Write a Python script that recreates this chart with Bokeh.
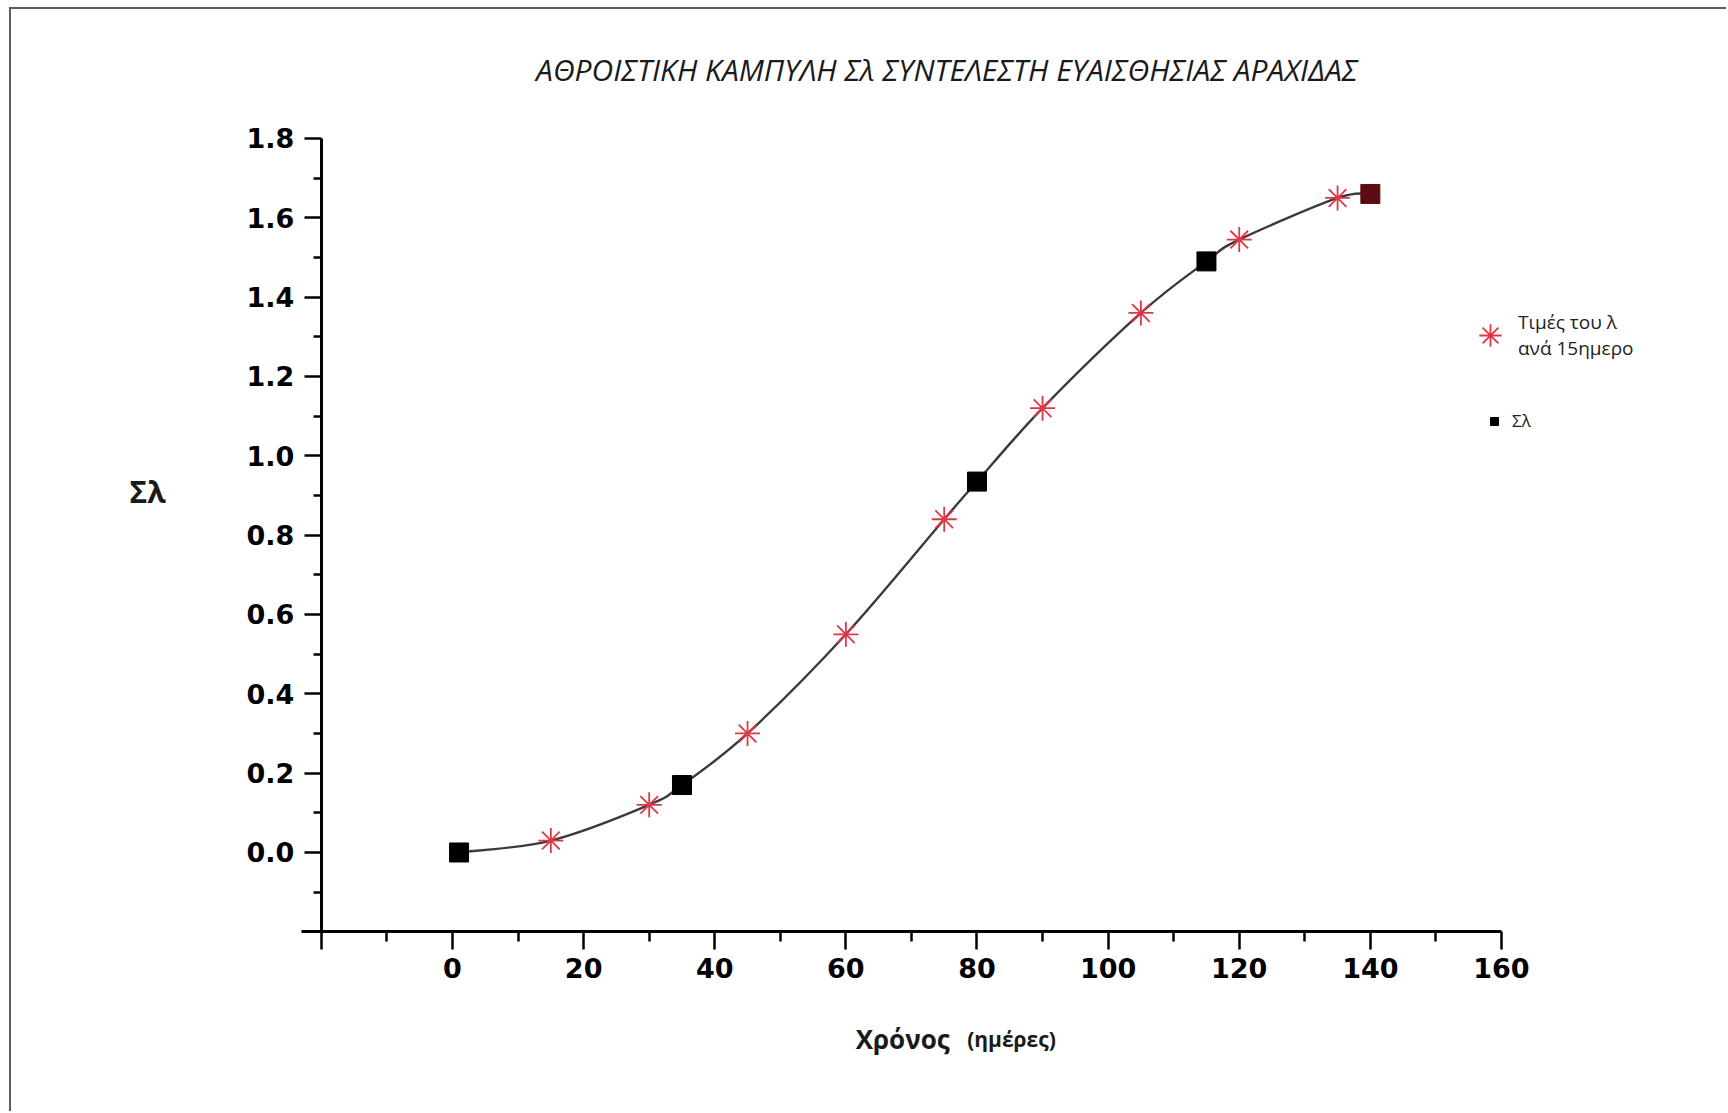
from bokeh.plotting import figure
from bokeh.models import (ColumnDataSource, FixedTicker, NumeralTickFormatter,
                          Label, Legend, LegendItem)
from bokeh.embed import file_html
from bokeh.resources import INLINE

# 15-day values of the sensitivity coefficient (λ) and cumulative Σλ points
star_days = [15, 30, 45, 60, 75, 90, 105, 120, 135]
star_vals = [0.03, 0.12, 0.30, 0.55, 0.84, 1.12, 1.36, 1.545, 1.65]

sum_days = [1, 35, 80, 115, 140]
sum_vals = [0.0, 0.17, 0.935, 1.49, 1.66]
sum_colors = ["black", "black", "black", "black", "#5a0c14"]

x_ticks = [-20, 0, 20, 40, 60, 80, 100, 120, 140, 160]
x_minor = [-10, 10, 30, 50, 70, 90, 110, 130, 150]
y_ticks = [0.0, 0.2, 0.4, 0.6, 0.8, 1.0, 1.2, 1.4, 1.6, 1.8]
y_minor = [-0.1, 0.1, 0.3, 0.5, 0.7, 0.9, 1.1, 1.3, 1.5, 1.7]

title_text = "ΑΘΡΟΙΣΤΙΚΗ ΚΑΜΠΥΛΗ Σλ ΣΥΝΤΕΛΕΣΤΗ ΕΥΑΙΣΘΗΣΙΑΣ ΑΡΑΧΙΔΑΣ"
x_title = "Χρόνος"
x_unit = "(ημέρες)"
y_title = "Σλ"
star_label = "Τιμές του λ\nανά 15ημερο"
sum_label = "Σλ"

# smooth curve through every point in time order (Catmull-Rom as cubic Béziers)
pts = sorted(zip(star_days + sum_days, star_vals + sum_vals))
seg = dict(x0=[], y0=[], x1=[], y1=[], cx0=[], cy0=[], cx1=[], cy1=[])
for i in range(len(pts) - 1):
    p_prev = pts[max(i - 1, 0)]
    p0, p1 = pts[i], pts[i + 1]
    p_next = pts[min(i + 2, len(pts) - 1)]
    seg["x0"].append(p0[0]); seg["y0"].append(p0[1])
    seg["x1"].append(p1[0]); seg["y1"].append(p1[1])
    seg["cx0"].append(p0[0] + (p1[0] - p_prev[0]) / 6)
    seg["cy0"].append(p0[1] + (p1[1] - p_prev[1]) / 6)
    seg["cx1"].append(p1[0] - (p_next[0] - p0[0]) / 6)
    seg["cy1"].append(p1[1] - (p_next[1] - p0[1]) / 6)
curve_src = ColumnDataSource(seg)
star_src = ColumnDataSource(dict(x=star_days, y=star_vals))
sum_src = ColumnDataSource(dict(x=sum_days, y=sum_vals, c=sum_colors))

# the frame fills the canvas; axes sit at fixed data positions
p = figure(width=1717, height=1104, output_backend="svg", toolbar_location=None,
           title=None, x_range=(-67.27, 194.63), y_range=(-0.658, 2.125),
           min_border=0)
p.styles = {"margin-left": "9px", "margin-top": "7px",
            "border-left": "2px solid #5c5c5c", "border-top": "2px solid #5c5c5c"}
p.outline_line_color = None
p.grid.visible = False
p.background_fill_color = "white"
p.border_fill_color = "white"

for ax in (p.xaxis[0], p.yaxis[0]):
    ax.axis_line_width = 3
    ax.axis_line_color = "black"
    ax.major_tick_line_width = 2.5
    ax.minor_tick_line_width = 2.5
    ax.major_tick_line_color = "black"
    ax.minor_tick_line_color = "black"
    ax.major_tick_in = 0
    ax.minor_tick_in = 0
    ax.major_label_text_font = "DejaVu Sans"
    ax.major_label_text_font_style = "bold"
    ax.major_label_text_font_size = "27px"
    ax.major_label_text_color = "black"

p.xaxis.fixed_location = -0.2
p.xaxis.bounds = (-23, 160)
p.xaxis.ticker = FixedTicker(ticks=x_ticks, minor_ticks=x_minor)
p.xaxis.major_label_overrides = {-20: ""}
p.xaxis.major_tick_out = 18
p.xaxis.minor_tick_out = 10
p.xaxis.major_label_standoff = 8

p.yaxis.fixed_location = -20
p.yaxis.bounds = (-0.2, 1.8)
p.yaxis.ticker = FixedTicker(ticks=y_ticks, minor_ticks=y_minor)
p.yaxis.formatter = NumeralTickFormatter(format="0.0")
p.yaxis.major_tick_out = 17
p.yaxis.minor_tick_out = 8
p.yaxis.major_label_standoff = 10

p.bezier("x0", "y0", "x1", "y1", "cx0", "cy0", "cx1", "cy1", source=curve_src,
         line_color="#3a3a3a", line_width=2.4)
r_sum = p.scatter("x", "y", source=sum_src, marker="square", size=19,
                  fill_color="c", line_color="c")
r_star = p.scatter("x", "y", source=star_src, marker="asterisk", size=25,
                   line_color="#e23644", line_width=1.8)

# title and axis names
p.add_layout(Label(x=75.4, y=1.975, text=title_text, text_align="center",
                   text_baseline="alphabetic", text_font="Open Sans",
                   text_font_style="italic", text_font_size="30px",
                   text_color="#1a1a1a"))
p.add_layout(Label(x=-46.5, y=0.91, text=y_title, text_align="center",
                   text_baseline="middle", text_font="Open Sans",
                   text_font_style="bold", text_font_size="30px",
                   text_color="#1a1a1a"))
p.add_layout(Label(x=61.5, y=-0.469, text=x_title, text_align="left",
                   text_baseline="alphabetic", text_font="Open Sans",
                   text_font_style="bold", text_font_size="26px",
                   text_color="#1a1a1a"))
p.add_layout(Label(x=78.5, y=-0.469, text=x_unit, text_align="left",
                   text_baseline="alphabetic", text_font="Open Sans",
                   text_font_style="bold", text_font_size="21px",
                   text_color="#1a1a1a"))

# legends near the right edge
common = dict(border_line_color=None, background_fill_alpha=0, padding=0,
              margin=0, label_standoff=0, label_text_font="Open Sans",
              label_text_color="#222222")
leg1 = Legend(items=[LegendItem(label=star_label, renderers=[r_star], index=0)],
              location=(1451, 750), glyph_width=56, glyph_height=56,
              label_text_line_height=1.2, label_text_font_size="19px", **common)
leg2 = Legend(items=[LegendItem(label=sum_label, renderers=[r_sum], index=0)],
              location=(1473, 681), glyph_width=20, glyph_height=20,
              label_text_font_size="17px", **common)
leg2.label_standoff = 8
p.add_layout(leg1)
p.add_layout(leg2)

open("out.html", "w").write(file_html(p, INLINE))
